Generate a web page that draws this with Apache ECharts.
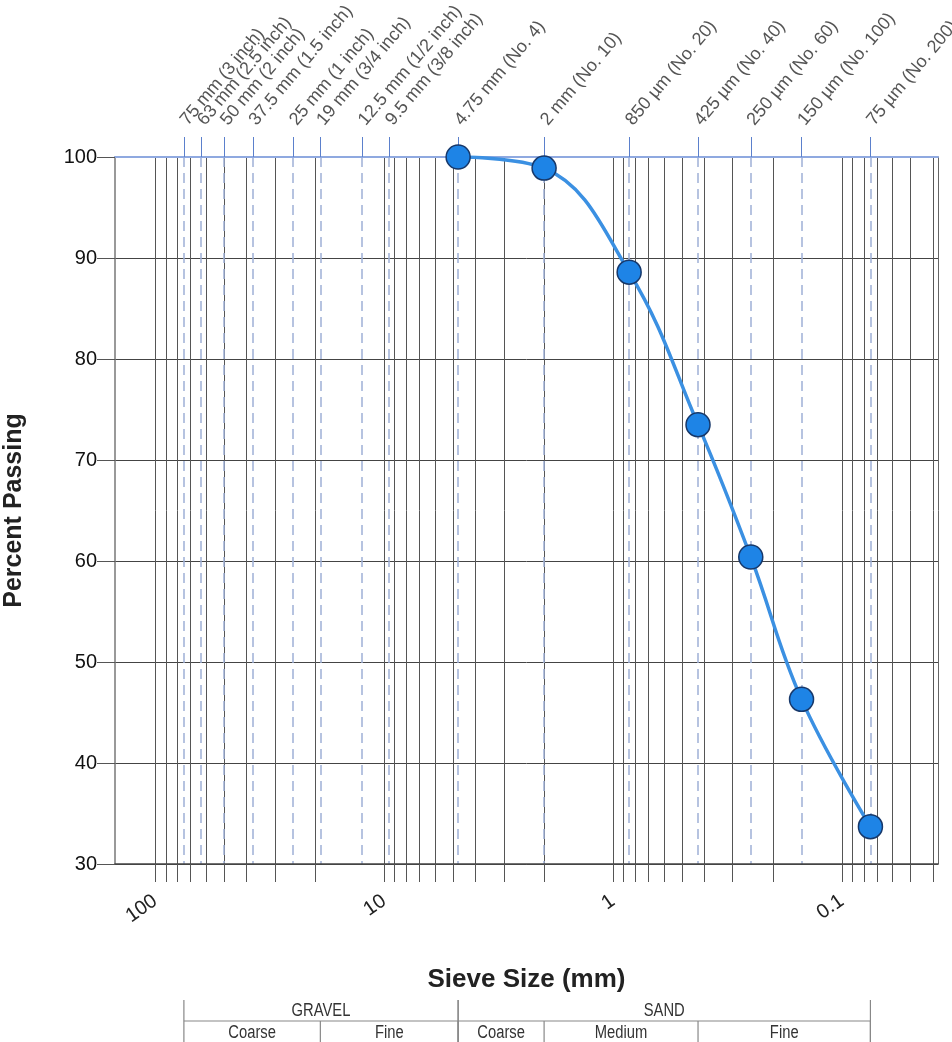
<!DOCTYPE html>
<html>
<head>
<meta charset="utf-8">
<title>Sieve Analysis</title>
<script src="https://cdn.jsdelivr.net/npm/echarts@6/dist/echarts.min.js"></script>
<style>
  html, body { margin: 0; padding: 0; background: #fff; }
  #main { width: 952px; height: 1042px; }
</style>
</head>
<body>
<div id="main"></div>
<script>
// sieve openings (mm) and their names, shown along the top
var sieveSizes = [75, 63, 50, 37.5, 25, 19, 12.5, 9.5, 4.75, 2, 0.85, 0.425, 0.25, 0.15, 0.075];
var sieveNames = ['75 mm (3 inch)', '63 mm (2.5 inch)', '50 mm (2 inch)', '37.5 mm (1.5 inch)',
  '25 mm (1 inch)', '19 mm (3/4 inch)', '12.5 mm (1/2 inch)', '9.5 mm (3/8 inch)',
  '4.75 mm (No. 4)', '2 mm (No. 10)', '850 µm (No. 20)', '425 µm (No. 40)',
  '250 µm (No. 60)', '150 µm (No. 100)', '75 µm (No. 200)'];

// test result
var testSizes = [4.75, 2, 0.85, 0.425, 0.25, 0.15, 0.075];
var percentPassing = [100, 98.9, 88.6, 73.5, 60.4, 46.3, 33.7];

// log grid lines and decade labels
var gridSizes = [100, 90, 80, 70, 60, 50, 40, 30, 20,
  10, 9, 8, 7, 6, 5, 4, 3, 2,
  1, 0.9, 0.8, 0.7, 0.6, 0.5, 0.4, 0.3, 0.2,
  0.1, 0.09, 0.08, 0.07, 0.06, 0.05, 0.04];
var decadeLabels = [100, 10, 1, 0.1];

// soil classification band under the chart
var topBands = [{name: 'GRAVEL', from: 75, to: 4.75}, {name: 'SAND', from: 4.75, to: 0.075}];
var subBands = [
  {name: 'Coarse', from: 75, to: 19},
  {name: 'Fine', from: 19, to: 4.75},
  {name: 'Coarse', from: 4.75, to: 2},
  {name: 'Medium', from: 2, to: 0.425},
  {name: 'Fine', from: 0.425, to: 0.075}
];

var xMin = 0.038, xMax = 150;
var fontMain = 'Liberation Sans, Arial, sans-serif';

// two top axes share the sieve labels so close ones (75/63 mm) are not dropped
function sieveAxis(parity) {
  var vals = sieveSizes.filter(function (s, i) { return i % 2 === parity; });
  return {
    type: 'log',
    position: 'top',
    inverse: true,
    min: xMin,
    max: xMax,
    axisLine: { show: parity === 0, lineStyle: { color: '#8fa9e0', width: 2 } },
    axisTick: { show: true, interval: 0, customValues: vals, length: 20, lineStyle: { color: '#5b80cc', width: 1 } },
    axisLabel: {
      customValues: vals,
      interval: 0,
      rotate: -50,
      margin: 34,
      fontSize: 18,
      color: '#555',
      fontFamily: fontMain,
      showMinLabel: true,
      showMaxLabel: true,
      formatter: function (v) {
        var i = sieveSizes.indexOf(v);
        return i >= 0 ? sieveNames[i] : '';
      }
    },
    splitLine: { show: true, interval: 0, lineStyle: { color: '#9fb0d6', width: 1.5, type: [10, 6] } }
  };
}

var chart = echarts.init(document.getElementById('main'));

var option = {
  backgroundColor: '#fff',
  animation: false,
  grid: { left: 115, right: 14, top: 157, bottom: 178, outerBoundsMode: 'none' },
  xAxis: [{
    type: 'log',
    position: 'bottom',
    inverse: true,
    min: xMin,
    max: xMax,
    name: 'Sieve Size (mm)',
    nameLocation: 'middle',
    nameGap: 103,
    nameTextStyle: { fontSize: 26, fontWeight: 'bold', color: '#222', fontFamily: fontMain },
    axisLine: { show: true, lineStyle: { color: '#444', width: 1.5 } },
    axisTick: { show: true, interval: 0, customValues: gridSizes, length: 18, lineStyle: { color: '#555' } },
    axisLabel: {
      customValues: decadeLabels,
      interval: 0,
      rotate: 35,
      margin: 35,
      fontSize: 20,
      color: '#222',
      fontFamily: fontMain,
      showMinLabel: true,
      showMaxLabel: true,
      formatter: function (v) { return String(v); }
    },
    splitLine: { show: true, interval: 0, lineStyle: { color: '#555', width: 1 } }
  }, sieveAxis(0), sieveAxis(1)],
  yAxis: [{
    type: 'value',
    min: 30,
    max: 100,
    interval: 10,
    name: 'Percent Passing',
    nameLocation: 'middle',
    nameGap: 88,
    nameTextStyle: { fontSize: 25, fontWeight: 'bold', color: '#222', fontFamily: fontMain },
    axisLine: { show: true, lineStyle: { color: '#777', width: 1.5 } },
    axisTick: { show: true, length: 18, lineStyle: { color: '#555' } },
    axisLabel: { margin: 18, fontSize: 20, color: '#111', fontFamily: fontMain },
    splitLine: { show: true, lineStyle: { color: '#444', width: 1 } }
  }, {
    type: 'value',
    position: 'right',
    min: 30,
    max: 100,
    interval: 10,
    axisLine: { show: true, lineStyle: { color: '#666', width: 1 } },
    axisTick: { show: false },
    axisLabel: { show: false },
    splitLine: { show: false }
  }],
  series: [{
    type: 'line',
    xAxisIndex: 0,
    yAxisIndex: 0,
    data: testSizes.map(function (s, i) { return [s, percentPassing[i]]; }),
    smooth: 0.4,
    symbol: 'circle',
    symbolSize: 24,
    itemStyle: { color: '#1e84e6', borderColor: '#17386a', borderWidth: 1.5 },
    lineStyle: { color: '#3b90e2', width: 3.5 },
    z: 10
  }]
};

chart.setOption(option);

// classification table, placed with the bottom axis scale
function px(v) { return chart.convertToPixel({ xAxisIndex: 0 }, v); }
var rowTop = 1000, rowMid = 1021, rowBottom = 1042;
var lineStyle = { stroke: '#888', lineWidth: 1.2 };
var tableFont = '18px Liberation Sans, Arial, sans-serif';
var narrow = 0.82;
var els = [];
var left = px(topBands[0].from), right = px(topBands[topBands.length - 1].to);
els.push({ type: 'line', shape: { x1: left, y1: rowMid, x2: right, y2: rowMid }, style: lineStyle });
topBands.forEach(function (b) {
  var a = px(b.from), c = px(b.to);
  els.push({ type: 'line', shape: { x1: a, y1: rowTop, x2: a, y2: rowBottom }, style: lineStyle });
  els.push({ type: 'line', shape: { x1: c, y1: rowTop, x2: c, y2: rowBottom }, style: lineStyle });
  els.push({ type: 'text', x: (a + c) / 2, y: (rowTop + rowMid) / 2 + 1, scaleX: narrow,
    style: { text: b.name, font: tableFont, fill: '#333', align: 'center', verticalAlign: 'middle' } });
});
subBands.forEach(function (b) {
  var a = px(b.from), c = px(b.to);
  els.push({ type: 'line', shape: { x1: c, y1: rowMid, x2: c, y2: rowBottom }, style: lineStyle });
  els.push({ type: 'text', x: (a + c) / 2, y: rowMid + 12, scaleX: narrow,
    style: { text: b.name, font: tableFont, fill: '#333', align: 'center', verticalAlign: 'middle' } });
});
chart.setOption({ graphic: { elements: els } });
</script>
</body>
</html>
